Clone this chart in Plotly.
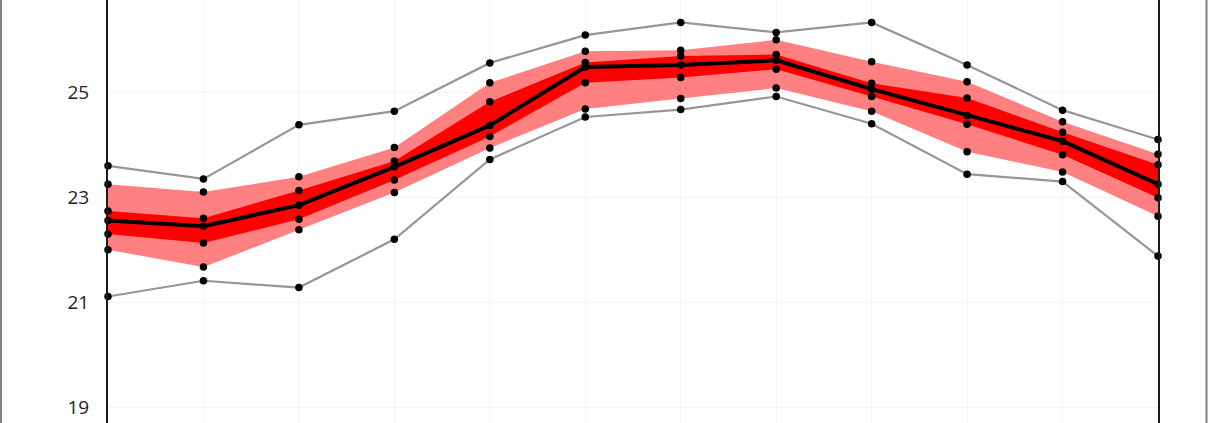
import plotly.graph_objects as go

months = ["Jan", "Feb", "Mar", "Apr", "May", "Jun", "Jul", "Aug", "Sep", "Oct", "Nov", "Dec"]
max_v = [23.60, 23.35, 24.38, 24.64, 25.56, 26.09, 26.33, 26.14, 26.33, 25.52, 24.66, 24.10]
p90 = [23.25, 23.10, 23.39, 23.95, 25.18, 25.78, 25.80, 26.00, 25.58, 25.20, 24.44, 23.82]
p75 = [22.74, 22.60, 23.13, 23.69, 24.82, 25.57, 25.69, 25.72, 25.17, 24.89, 24.24, 23.62]
median = [22.56, 22.45, 22.85, 23.58, 24.37, 25.48, 25.52, 25.61, 25.06, 24.56, 24.07, 23.25]
p25 = [22.30, 22.13, 22.58, 23.33, 24.16, 25.18, 25.28, 25.44, 24.92, 24.39, 23.81, 22.99]
p10 = [22.00, 21.67, 22.38, 23.09, 23.94, 24.68, 24.88, 25.08, 24.64, 23.87, 23.48, 22.64]
min_v = [21.11, 21.41, 21.28, 22.20, 23.72, 24.53, 24.67, 24.92, 24.40, 23.44, 23.30, 21.88]
y_ticks = [19, 21, 23, 25]

LIGHT = "rgb(255,128,128)"
DARK = "rgb(255,0,0)"
GRAY = "rgb(150,150,150)"

fig = go.Figure()
# light band p10-p90
fig.add_trace(go.Scatter(x=months, y=p10, mode="lines", line=dict(width=0, color=LIGHT), showlegend=False, hoverinfo="skip"))
fig.add_trace(go.Scatter(x=months, y=p90, mode="lines", line=dict(width=0, color=LIGHT), fill="tonexty", fillcolor=LIGHT, showlegend=False, hoverinfo="skip"))
# dark band p25-p75
fig.add_trace(go.Scatter(x=months, y=p25, mode="lines", line=dict(width=0, color=DARK), showlegend=False, hoverinfo="skip"))
fig.add_trace(go.Scatter(x=months, y=p75, mode="lines", line=dict(width=0, color=DARK), fill="tonexty", fillcolor=DARK, showlegend=False, hoverinfo="skip"))
# max/min gray lines
fig.add_trace(go.Scatter(x=months, y=max_v, mode="lines", line=dict(width=2.2, color=GRAY), showlegend=False))
fig.add_trace(go.Scatter(x=months, y=min_v, mode="lines", line=dict(width=2.2, color=GRAY), showlegend=False))
# median
fig.add_trace(go.Scatter(x=months, y=median, mode="lines", line=dict(width=4, color="black"), showlegend=False))
# dots
for series in [max_v, p90, p75, median, p25, p10, min_v]:
    fig.add_trace(go.Scatter(x=months, y=series, mode="markers", marker=dict(size=7.5, color="black"), showlegend=False, cliponaxis=False))

L, R = 108, 52
plot_w = 1210 - L - R
fig.update_layout(
    width=1210, height=423,
    margin=dict(l=L, r=R, t=0, b=0, pad=0),
    paper_bgcolor="white", plot_bgcolor="white",
    font=dict(family="Open Sans", size=19, color="#222"),
    xaxis=dict(range=[0, 11], showticklabels=False, showgrid=True, gridcolor="#f3f3f3", gridwidth=1,
               zeroline=False, showline=False, ticks=""),
    yaxis=dict(range=[25 - (423 - 92.3) / 52.5, 25 + 92.3 / 52.5], tickvals=y_ticks,
               showgrid=True, gridcolor="#f3f3f3", gridwidth=1, zeroline=False,
               showline=True, mirror=True, linecolor="#1a1a1a", linewidth=2,
               ticks="", ticklabelstandoff=13),
    shapes=[
        dict(type="line", xref="paper", yref="paper", x0=(1.0 - L) / plot_w, x1=(1.0 - L) / plot_w, y0=0, y1=1,
             line=dict(color="#808080", width=2)),
        dict(type="line", xref="paper", yref="paper", x0=(1206.5 - L) / plot_w, x1=(1206.5 - L) / plot_w, y0=0, y1=1,
             line=dict(color="#808080", width=2)),
    ],
)

fig.write_html("out.html", config={"displayModeBar": False},
               post_script="document.body.style.margin='0';document.body.style.overflow='hidden';")
